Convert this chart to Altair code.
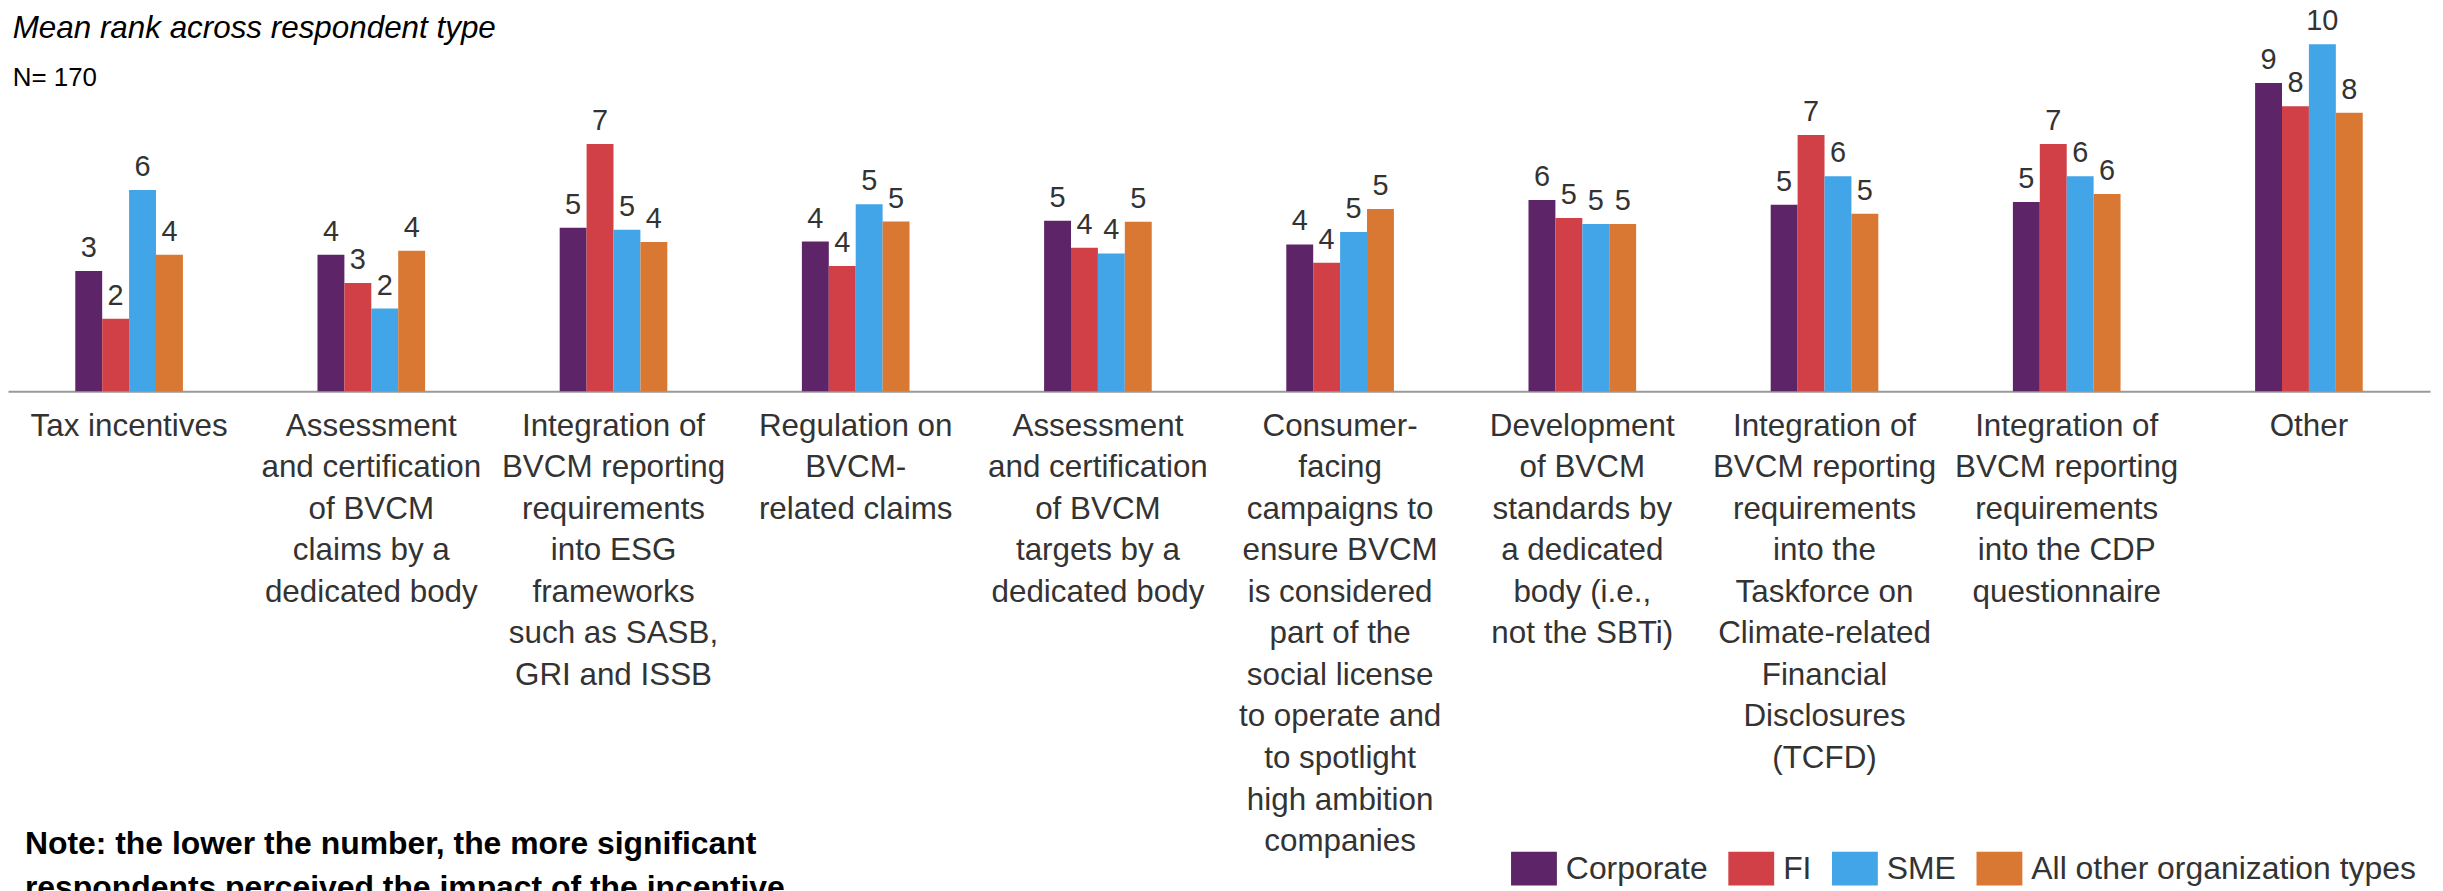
import altair as alt
import pandas as pd

categories = [
    "Tax incentives",
    "Assessment\nand certification\nof BVCM\nclaims by a\ndedicated body",
    "Integration of\nBVCM reporting\nrequirements\ninto ESG\nframeworks\nsuch as SASB,\nGRI and ISSB",
    "Regulation on\nBVCM-\nrelated claims",
    "Assessment\nand certification\nof BVCM\ntargets by a\ndedicated body",
    "Consumer-\nfacing\ncampaigns to\nensure BVCM\nis considered\npart of the\nsocial license\nto operate and\nto spotlight\nhigh ambition\ncompanies",
    "Development\nof BVCM\nstandards by\na dedicated\nbody (i.e.,\nnot the SBTi)",
    "Integration of\nBVCM reporting\nrequirements\ninto the\nTaskforce on\nClimate-related\nFinancial\nDisclosures\n(TCFD)",
    "Integration of\nBVCM reporting\nrequirements\ninto the CDP\nquestionnaire",
    "Other",
]
groups = ["Corporate", "FI", "SME", "All other organization types"]
corporate = [3.46, 3.93, 4.71, 4.31, 4.91, 4.23, 5.51, 5.37, 5.45, 8.88]
fi = [2.09, 3.12, 7.12, 3.61, 4.13, 3.70, 4.99, 7.38, 7.12, 8.21]
sme = [5.80, 2.38, 4.65, 5.39, 3.97, 4.59, 4.82, 6.19, 6.19, 10.0]
other_org = [3.93, 4.05, 4.30, 4.89, 4.88, 5.25, 4.82, 5.11, 5.68, 8.02]
colors = ["#5E2468", "#D04046", "#42A5E8", "#D97833"]

title_text = "Mean rank across respondent type"
n_text = "N= 170"
note_lines = [
    "Note: the lower the number, the more significant",
    "respondents perceived the impact of the incentive",
]

rows = []
for i, c in enumerate(categories):
    for g, vals in zip(groups, [corporate, fi, sme, other_org]):
        rows.append({"category": c, "group": g, "value": vals[i]})
df = pd.DataFrame(rows)

FONT = "Liberation Sans"
TOP = 6
PLOT_H = 383 - TOP
Y_MAX = PLOT_H / 34.82

base = alt.Chart(df).encode(
    x=alt.X(
        "category:N",
        sort=categories,
        scale=alt.Scale(paddingInner=0.5556, paddingOuter=0.2778),
        axis=alt.Axis(
            title=None,
            labelExpr="split(datum.label, '\\n')",
            labelFontSize=31.5,
            labelFont=FONT,
            labelColor="#333333",
            labelLineHeight=41.7,
            labelPadding=19,
            labelAngle=0,
            labelLimit=1000,
            labelOverlap=False,
            labelBaseline="top",
            labelAlign="center",
            ticks=False,
            tickSize=0,
            domainColor="#9a9a9a",
            domainWidth=2,
            grid=False,
        ),
    ),
    xOffset=alt.XOffset(
        "group:N", sort=groups, scale=alt.Scale(paddingInner=0, paddingOuter=0)
    ),
    y=alt.Y(
        "value:Q",
        scale=alt.Scale(domain=[0, Y_MAX], nice=False, zero=True),
        axis=None,
    ),
)

bars = base.mark_bar().encode(
    color=alt.Color(
        "group:N",
        sort=groups,
        scale=alt.Scale(domain=groups, range=colors),
        legend=alt.Legend(
            title=None,
            orient="none",
            legendX=1508,
            legendY=839 - TOP,
            direction="horizontal",
            symbolType="M-1,-0.739L1,-0.739L1,0.739L-1,0.739Z",
            symbolSize=2116,
            symbolStrokeWidth=0,
            symbolOpacity=1,
            labelFontSize=32,
            labelFont=FONT,
            labelColor="#333333",
            labelOffset=9,
            columnPadding=20,
            padding=0,
            labelLimit=1000,
        ),
    )
)

labels = base.mark_text(
    baseline="alphabetic", dy=-14, fontSize=29, font=FONT, color="#333333"
).encode(text=alt.Text("value:Q", format=".0f"))

ann = pd.DataFrame({"k": [0]})
title_t = alt.Chart(ann).mark_text(
    text=title_text,
    align="left",
    baseline="alphabetic",
    fontSize=31.5,
    fontStyle="italic",
    font=FONT,
    color="#000000",
).encode(x=alt.value(4.7), y=alt.value(28.7 - TOP))

n_t = alt.Chart(ann).mark_text(
    text=n_text,
    align="left",
    baseline="alphabetic",
    fontSize=26,
    font=FONT,
    color="#000000",
).encode(x=alt.value(4.7), y=alt.value(77 - TOP))

note_t = alt.Chart(ann).mark_text(
    text=note_lines,
    align="left",
    baseline="alphabetic",
    fontSize=32,
    fontWeight="bold",
    font=FONT,
    color="#000000",
    lineHeight=44,
).encode(x=alt.value(17), y=alt.value(847 - TOP))

chart = (
    alt.layer(bars, labels, title_t, n_t, note_t)
    .properties(
        width=2430,
        height=PLOT_H,
        padding={"left": 0, "top": TOP, "right": 5, "bottom": 500},
        autosize=alt.AutoSizeParams(type="none"),
    )
    .configure_view(strokeWidth=0)
)

chart.save("out.html", embed_options={"renderer": "svg", "actions": False})
